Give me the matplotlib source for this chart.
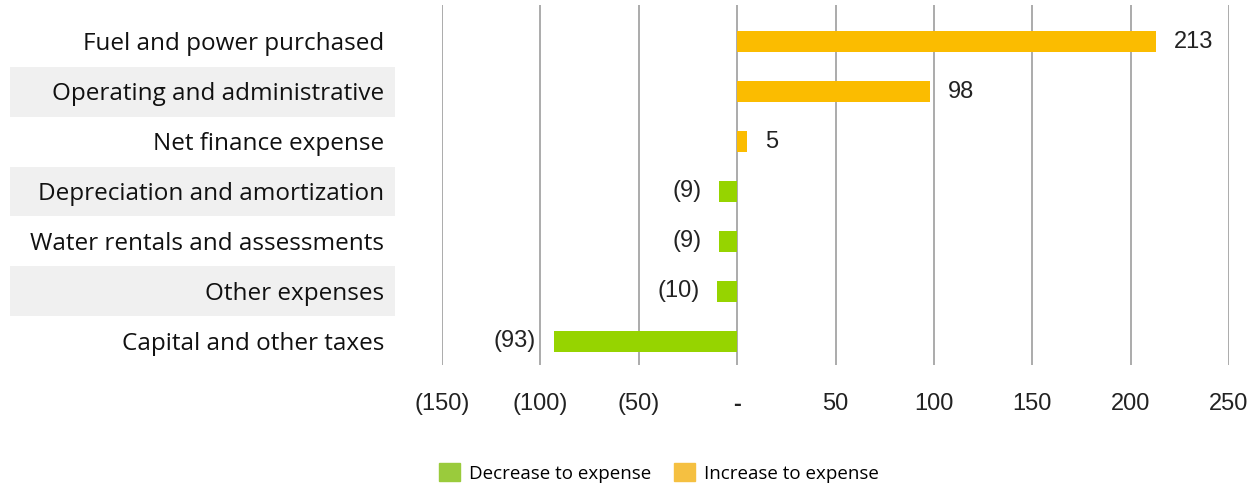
import matplotlib
matplotlib.use("Agg")
import matplotlib.pyplot as plt
import matplotlib.transforms as mtransforms
from matplotlib.patches import Rectangle, Patch

# data
categories = ["Fuel and power purchased", "Operating and administrative",
              "Net finance expense", "Depreciation and amortization",
              "Water rentals and assessments", "Other expenses",
              "Capital and other taxes"]
values = [213, 98, 5, -9, -9, -10, -93]
ticks = [-150, -100, -50, 0, 50, 100, 150, 200, 250]
tick_labels = ["(150)", "(100)", "(50)", "-", "50", "100", "150", "200", "250"]
legend_labels = ["Decrease to expense", "Increase to expense"]

bar_up = "#FBBC00"
bar_down = "#96D400"
leg_down = "#9ACB3C"
leg_up = "#F5C041"
num_font = "Liberation Sans"
cat_font = "Open Sans"

W, H = 1250, 483
fig = plt.figure(figsize=(W / 100, H / 100), dpi=100)
ax = fig.add_axes([442 / W, 1 - 365 / H, (1229 - 442) / W, (365 - 5) / H])

ypos = list(range(len(categories)))
colors = [bar_up if v > 0 else bar_down for v in values]
ax.barh(ypos, values, height=0.42, color=colors, zorder=3)

ax.set_xlim(-150, 250)
ax.set_ylim(6.48, -0.74)
ax.set_xticks(ticks)
ax.set_xticklabels(tick_labels, fontfamily=num_font, fontsize=17, color="#222222")
ax.tick_params(axis="x", length=0, pad=20)
ax.get_xticklabels()[3].set_fontweight("bold")
ax.set_yticks([])
for s in ax.spines.values():
    s.set_visible(False)
for t in ticks:
    ax.axvline(t, color="#ABABAB", lw=1.4, zorder=1)

# value labels
for y, v in zip(ypos, values):
    if v > 0:
        ax.annotate(f"{v}", (v, y), xytext=(13, 0), textcoords="offset points",
                    ha="left", va="center", fontsize=17, fontfamily=num_font, color="#222222")
    else:
        ax.annotate(f"({-v})", (v, y), xytext=(-13, 0), textcoords="offset points",
                    ha="right", va="center", fontsize=17, fontfamily=num_font, color="#222222")

# category labels with alternating bands
trans = mtransforms.blended_transform_factory(fig.transFigure, ax.transData)
for y, c in zip(ypos, categories):
    if y % 2 == 1:
        ax.add_patch(Rectangle((10 / W, y - 0.5), 385 / W, 1.0, transform=trans,
                               facecolor="#F0F0F0", edgecolor="none", clip_on=False))
    ax.text(384 / W, y + 0.05, c, transform=trans, ha="right", va="center",
            fontsize=17.5, fontfamily=cat_font, color="#111111")

handles = [Patch(color=leg_down), Patch(color=leg_up)]
fig.legend(handles, legend_labels, loc="center", bbox_to_anchor=(659 / W, 1 - 473 / H),
           ncol=2, frameon=False, prop={"family": cat_font, "size": 13.5},
           handlelength=1.1, handleheight=1.1, handletextpad=0.5, columnspacing=1.2)

fig.savefig("out.png", dpi=100)
